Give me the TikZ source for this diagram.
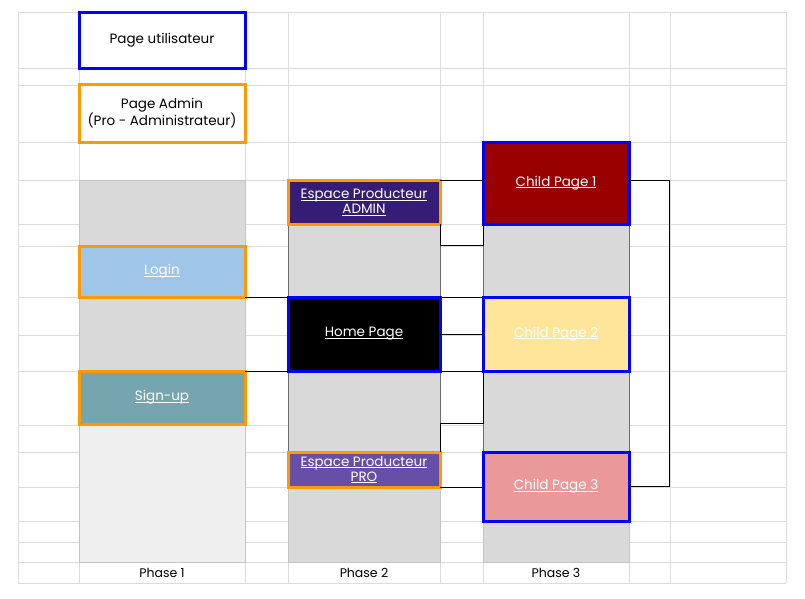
\documentclass[tikz,border=0pt]{standalone}
\usepackage{fontspec}
\setmainfont{Poppins}
\usetikzlibrary{calc}
\definecolor{gridc}{HTML}{DCDCDC}
\definecolor{colgray}{HTML}{D9D9D9}
\definecolor{colgraylt}{HTML}{EFEFEF}
\definecolor{edgedark}{HTML}{6B6B6B}
\definecolor{edgelt}{HTML}{C4C4C4}
\definecolor{bluec}{HTML}{0000FF}
\definecolor{orangec}{HTML}{FF9900}
\definecolor{purpledk}{HTML}{351C75}
\definecolor{purplec}{HTML}{674EA7}
\definecolor{loginc}{HTML}{9FC5E8}
\definecolor{signupc}{HTML}{76A5AF}
\definecolor{redc}{HTML}{990000}
\definecolor{yellowc}{HTML}{FFE599}
\definecolor{pinkc}{HTML}{EA9999}
\newcommand\ulink[1]{\setbox0\hbox{#1}\rlap{\rule[-1.6pt]{\wd0}{0.7pt}}\box0}
\begin{document}
\begin{tikzpicture}[x=1pt,y=-1pt,
  gridline/.style={draw=gridc, line width=0.8pt},
  column/.style={draw=edgelt, line width=0.8pt},
  darkedge/.style={draw=edgedark, line width=1pt},
  pagebox/.style={rectangle, line width=3pt, inner sep=0pt, outer sep=0pt, align=center,
     text=white, font=\fontsize{13.5}{15}\selectfont},
  userbox/.style={pagebox, draw=bluec},
  adminbox/.style={pagebox, draw=orangec},
  legend/.style={text=black, fill=white},
  wide/.style={minimum width=166pt},
  mid/.style={minimum width=152pt},
  right/.style={minimum width=146pt},
  link/.style={draw=black, line width=0.8pt},
  phaselabel/.style={font=\fontsize{12.5}{14}\selectfont, text=black, inner sep=0pt}
]
\useasboundingbox (0,0) rectangle (805,598);
\fill[white] (0,0) rectangle (805,598);

% spreadsheet grid
\foreach \y in {12,68,85,142,180,224,246,297,335,371,425,452,487,521,542,562,583}
  \draw[gridline] (18,\y) -- (786,\y);
\foreach \x in {18,79,245,288,440,483,629,670,786}
  \draw[gridline] (\x,12) -- (\x,583);

% phase columns
\fill[colgray] (79,180) rectangle (245,425);
\fill[colgraylt] (79,425) rectangle (245,562);
\draw[column] (79,180) rectangle (245,562);
\fill[colgray] (288,180) rectangle (440,562);
\draw[column] (288,180) rectangle (440,562);
\fill[colgray] (483,142) rectangle (629,562);
\draw[column] (483,142) rectangle (629,562);
\draw[darkedge] (288,180) -- (288,452);
\draw[darkedge] (440,180) -- (440,452);
\draw[darkedge] (483,142) -- (483,452);
\draw[darkedge] (629,142) -- (629,452);

% legend
\node[userbox, legend, wide, minimum height=56pt] (user) at (162,40) {Page utilisateur};
\node[adminbox, legend, wide, minimum height=58pt] (admin) at (162,113) {Page Admin\\(Pro - Administrateur)};

% pages
\node[adminbox, wide, fill=loginc, minimum height=51pt] (login) at (162,271.5) {\ulink{Login}};
\node[adminbox, wide, fill=signupc, minimum height=53pt] (signup) at (162,397.5) {\ulink{Sign-up}};
\node[adminbox, mid, fill=purpledk, minimum height=44pt] (espadmin) at (364,202) {\ulink{Espace Producteur}\\\ulink{ADMIN}};
\node[userbox, mid, fill=black, minimum height=74pt] (home) at (364,334) {\ulink{Home Page}};
\node[adminbox, mid, fill=purplec, minimum height=35pt] (pro) at (364,469.5) {\ulink{Espace Producteur}\\\ulink{PRO}};
\node[userbox, right, fill=redc, minimum height=82pt] (child1) at (556,183) {\ulink{Child Page 1}};
\node[userbox, right, fill=yellowc, minimum height=74pt] (child2) at (556,334) {\ulink{Child Page 2}};
\node[userbox, right, fill=pinkc, minimum height=69pt] (child3) at (556,486.5) {\ulink{Child Page 3}};

% connectors
\coordinate (adminturn) at ($(espadmin.south east)+(0,21)$);
\coordinate (proturn) at ($(child2.south west)+(0,52)$);
\coordinate (c1top) at ($(child1.east)+(0,-3)$);
\coordinate (bracket) at (669,0);
\draw[link] (login.south east) -- (home.north west);
\draw[link] (signup.north east) -- (home.south west);
\draw[link] (espadmin.north east) -- (espadmin.north east -| child1.west);
\draw[link] (espadmin.south east) -- (adminturn) -- (adminturn -| child1.west) -- (child1.south west);
\draw[link] (home.north east) -- (child2.north west);
\draw[link] (home.east) -- (child2.west);
\draw[link] (home.south east) -- (child2.south west);
\draw[link] (child2.south west) -- (proturn) -- (proturn -| pro.north east) -- (pro.north east);
\draw[link] (pro.south east) -- (pro.south east -| child3.west);
\draw[link] (c1top) -- (c1top -| bracket) -- (bracket |- child3.east) -- (child3.east);

% phase labels
\node[phaselabel] (ph1) at (162,572.5) {Phase 1};
\node[phaselabel] (ph2) at (364,572.5) {Phase 2};
\node[phaselabel] (ph3) at (556,572.5) {Phase 3};
\end{tikzpicture}
\end{document}
